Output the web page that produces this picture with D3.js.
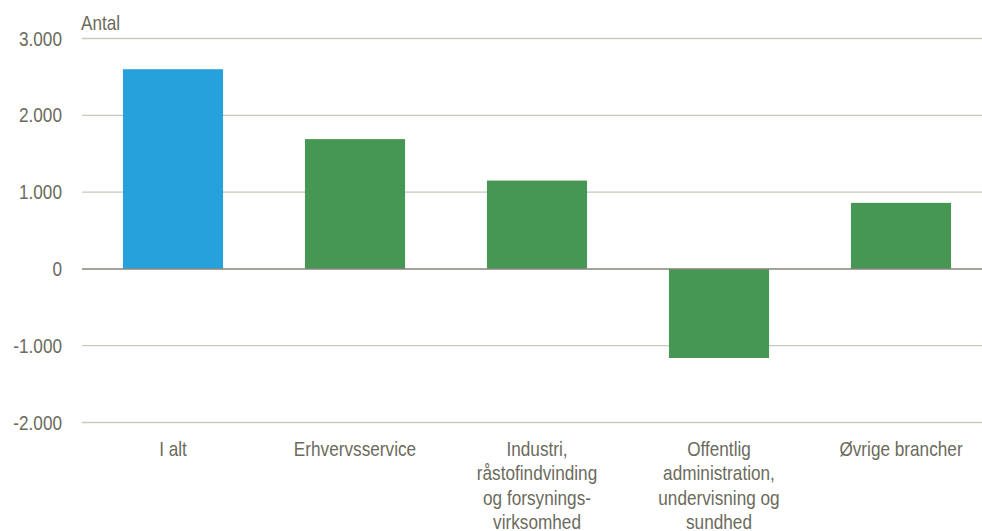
<!DOCTYPE html>
<html>
<head>
<meta charset="utf-8">
<style>
body { margin: 0; background: #fff; }
text { font-family: "Liberation Sans", Arial, sans-serif; fill: #6b6b5c; }
.grid line { stroke: #c9c9bd; stroke-width: 1.3; }
.zero { stroke: #85857a; stroke-width: 1.5; }
</style>
</head>
<body>
<script src="https://d3js.org/d3.v7.min.js"></script>
<script>

// Data
var categories = ["I alt", "Erhvervsservice", "Industri, råstofindvinding og forsynings-virksomhed",
                  "Offentlig administration, undervisning og sundhed", "Øvrige brancher"];
var labelLines = [["I alt"], ["Erhvervsservice"],
                  ["Industri,", "råstofindvinding", "og forsynings-", "virksomhed"],
                  ["Offentlig", "administration,", "undervisning og", "sundhed"],
                  ["Øvrige brancher"]];
var values = [2600, 1690, 1150, -1160, 860];
var barColors = ["#26a1dc", "#459753", "#459753", "#459753", "#459753"];
var yTicks = [3000, 2000, 1000, 0, -1000, -2000];
var yTickLabels = ["3.000", "2.000", "1.000", "0", "-1.000", "-2.000"];

var width = 982, height = 531;
var sx = 0.86; // text looks horizontally condensed

var svg = d3.select("body").append("svg")
    .attr("width", width)
    .attr("height", height);

var x = d3.scaleBand()
    .domain(categories)
    .range([82, 992])
    .paddingInner(0.45)
    .paddingOuter(0.225);

var y = d3.scaleLinear()
    .domain([-2000, 3000])
    .range([422.5, 38.5]);

// gridlines
svg.append("g")
    .attr("class", "grid")
  .selectAll("line")
    .data(yTicks.filter(function(d) { return d !== 0; }))
  .enter().append("line")
    .attr("x1", 82)
    .attr("x2", width)
    .attr("y1", function(d) { return y(d); })
    .attr("y2", function(d) { return y(d); });

// y tick labels
svg.append("g")
  .selectAll("text")
    .data(yTicks)
  .enter().append("text")
    .attr("transform", function(d) { return "translate(62," + (y(d) + 7) + ") scale(" + sx + ",1)"; })
    .attr("text-anchor", "end")
    .style("font-size", "20px")
    .text(function(d, i) { return yTickLabels[i]; });

// axis title
svg.append("text")
    .attr("transform", "translate(81,30) scale(" + sx + ",1)")
    .style("font-size", "20px")
    .text("Antal");

// bars
svg.selectAll(".bar")
    .data(values)
  .enter().append("rect")
    .attr("class", "bar")
    .attr("x", function(d, i) { return x(categories[i]); })
    .attr("width", x.bandwidth())
    .attr("y", function(d) { return y(Math.max(0, d)); })
    .attr("height", function(d) { return Math.abs(y(d) - y(0)); })
    .attr("fill", function(d, i) { return barColors[i]; });

// zero line
svg.append("line")
    .attr("class", "zero")
    .attr("x1", 82)
    .attr("x2", width)
    .attr("y1", y(0))
    .attr("y2", y(0));

// category labels
var lab = svg.append("g")
  .selectAll("g")
    .data(categories)
  .enter().append("g")
    .attr("transform", function(d) { return "translate(" + (x(d) + x.bandwidth() / 2) + ",456) scale(" + sx + ",1)"; });

lab.each(function(d, i) {
  d3.select(this).selectAll("text")
      .data(labelLines[i])
    .enter().append("text")
      .attr("text-anchor", "middle")
      .attr("y", function(t, j) { return j * 24.5; })
      .style("font-size", "20px")
      .text(function(t) { return t; });
});

</script>
</body>
</html>
